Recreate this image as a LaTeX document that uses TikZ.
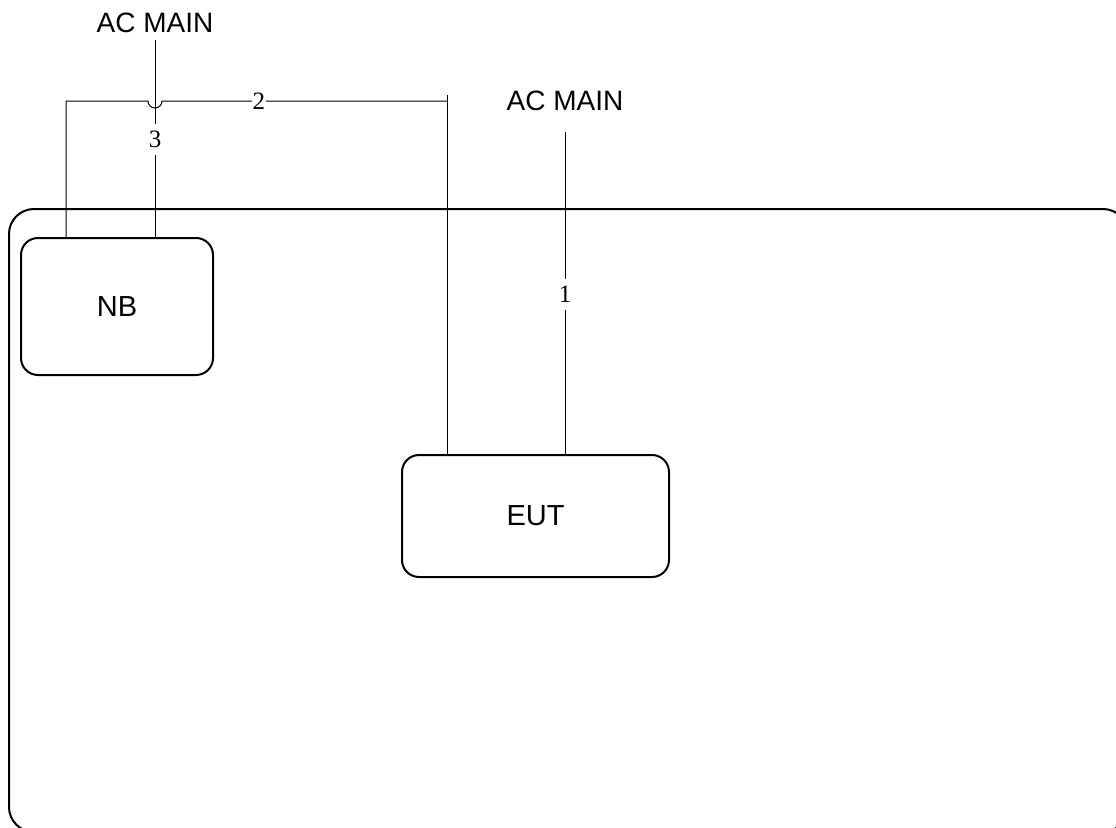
\documentclass[tikz,border=0pt]{standalone}
\usepackage{fontspec}
\setmainfont{Liberation Serif}
\setsansfont{Liberation Sans}
\usetikzlibrary{positioning}

\begin{document}
\begin{tikzpicture}[x=1pt, y=-1pt,
    caja/.style={draw, line width=2pt, rounded corners=17pt, font=\sffamily\fontsize{29}{32}\selectfont},
    rotulo/.style={inner sep=0pt, font=\sffamily\fontsize{28}{32}\selectfont},
    num/.style={fill=white, inner xsep=1pt, inner ysep=7pt, font=\fontsize{25}{28}\selectfont}]
            \useasboundingbox (0,0) rectangle (1116,827);

            % Nodos
            \node[draw, line width=2pt, rounded corners=25pt, minimum width=1119pt, minimum height=623pt] (sala) at (568.5,520.5) {};
            \node[caja, minimum width=192pt, minimum height=137pt] (nb) at (117,306.5) {NB};
            \node[caja, minimum width=267pt, minimum height=122pt] (eut) at (535.5,516) {EUT};
            \node[rotulo, anchor=base] (acl) at (155,32) {AC MAIN};
            \node[rotulo, anchor=base] (acr) at (565,110) {AC MAIN};
            \coordinate (c2) at (447,95);

            % Aristas
            \draw[line width=1pt, shorten <=8pt] (acl.south) -- node[num, pos=0.524] {3} (acl.south |- nb.north);
            \draw[line width=1pt] ([xshift=-51pt]nb.north) |- (148,101) arc[start angle=180, end angle=0, radius=7] -- node[num, pos=0.34] {2} (c2 |- 0,101);
            \draw[line width=1pt] (c2) -- (c2 |- eut.north);
            \draw[line width=1pt, shorten <=22pt] (acr.south) -- node[num, pos=0.536] {1} (acr.south |- eut.north);
          \end{tikzpicture}
\end{document}
